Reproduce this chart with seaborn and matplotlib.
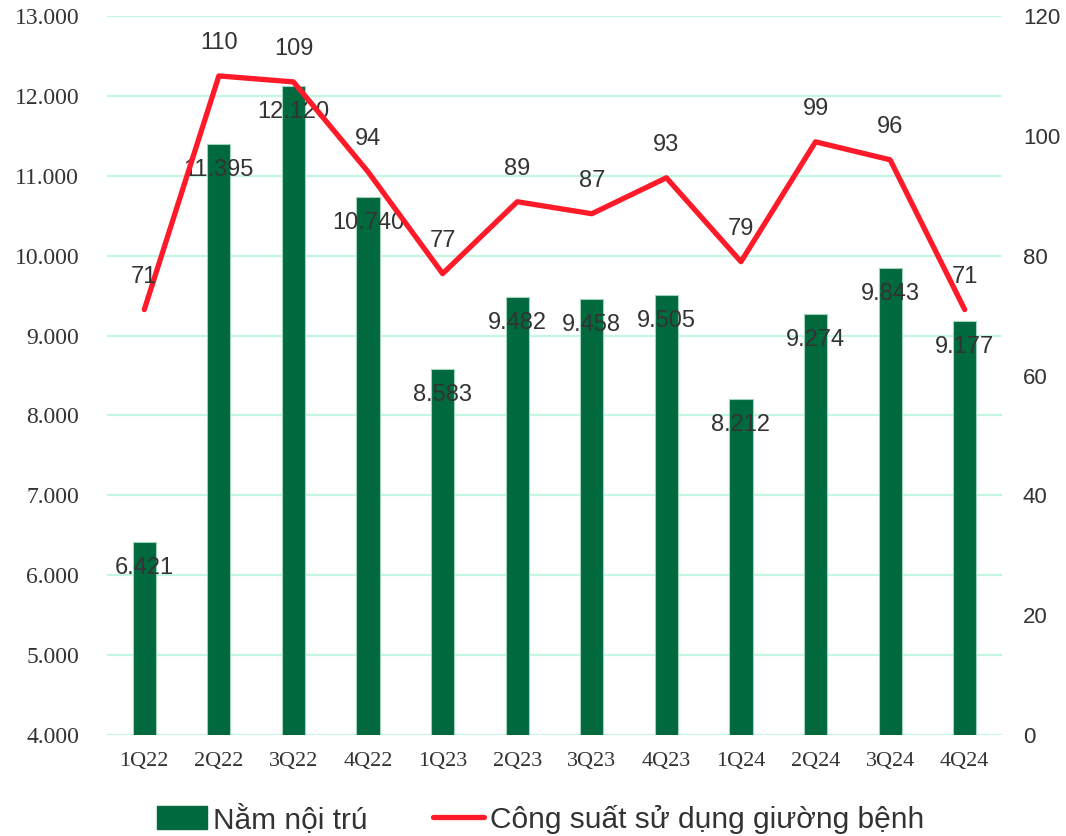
import numpy as np
import pandas as pd
import matplotlib
matplotlib.use("Agg")
import matplotlib.pyplot as plt
from matplotlib.patches import Patch
from matplotlib.lines import Line2D
import seaborn as sns

# data
QUARTERS = ["1Q22", "2Q22", "3Q22", "4Q22", "1Q23", "2Q23", "3Q23", "4Q23",
            "1Q24", "2Q24", "3Q24", "4Q24"]
INPATIENT = [6421, 11395, 12120, 10740, 8583, 9482, 9458, 9505, 8212, 9274, 9843, 9177]
BED_USE = [71, 110, 109, 94, 77, 89, 87, 93, 79, 99, 96, 71]

LEFT_TICKS = list(range(4000, 13001, 1000))
RIGHT_TICKS = list(range(0, 121, 20))

BAR_LABEL = "Nằm nội trú"
LINE_LABEL = "Công suất sử dụng giường bệnh"

GREEN = "#006A3E"
RED = "#FF1A2A"
GRID = "#C4F6E1"
TEXT = "#333333"

sns.set_theme(style="white")
plt.rcParams["font.family"] = ["Liberation Sans", "DejaVu Sans"]

df = pd.DataFrame({"quarter": QUARTERS, "inpatient": INPATIENT, "bed_use": BED_USE})
df["pos"] = np.arange(len(df))


def vn_thousands(v):
    return f"{v:,}".replace(",", ".")


fig = plt.figure(figsize=(10.66, 8.36), dpi=100)
ax = fig.add_axes([107 / 1066, 1 - 735 / 836, (1002 - 107) / 1066, (735 - 16) / 836])

sns.barplot(data=df, x="quarter", y="inpatient", color=GREEN, saturation=1,
            width=0.31, edgecolor="#9FD3BA", linewidth=0.8, ax=ax, zorder=2)
ax.set_ylim(4000, 13000)
ax.set_xlim(-0.5, len(QUARTERS) - 0.5)
ax.set_yticks(LEFT_TICKS)
ax.set_yticklabels([vn_thousands(t) for t in LEFT_TICKS],
                   family="Liberation Serif", fontsize=17, color=TEXT)
ax.set_xticks(df["pos"])
ax.set_xticklabels(QUARTERS, family="Liberation Serif", fontsize=16, color=TEXT)
ax.tick_params(axis="both", length=0)
ax.tick_params(axis="y", pad=20)
ax.tick_params(axis="x", pad=12)
ax.set_xlabel("")
ax.set_ylabel("")
ax.grid(axis="y", color=GRID, linewidth=1.6, zorder=0)
ax.set_axisbelow(True)
for s in ax.spines.values():
    s.set_visible(False)

for p, v in zip(df["pos"], df["inpatient"]):
    ax.annotate(vn_thousands(v), (p, v), xytext=(0, -26), textcoords="offset pixels",
                ha="center", va="center", fontsize=17, color=TEXT, zorder=5)

ax2 = ax.twinx()
sns.lineplot(data=df, x="pos", y="bed_use", color=RED, linewidth=3.8, ax=ax2, zorder=3)
ax2.set_ylim(0, 120)
ax2.set_yticks(RIGHT_TICKS)
ax2.set_yticklabels([str(t) for t in RIGHT_TICKS], fontsize=16, color=TEXT)
ax2.tick_params(axis="y", length=0, pad=15)
ax2.set_ylabel("")
ax2.set_xlabel("")
ax2.grid(False)
for s in ax2.spines.values():
    s.set_visible(False)

for p, v in zip(df["pos"], df["bed_use"]):
    ax2.annotate(str(v), (p, v), xytext=(0, 33), textcoords="offset pixels",
                 ha="center", va="center", fontsize=17, color=TEXT, zorder=5)

handles = [Patch(facecolor=GREEN, edgecolor=GREEN),
           Line2D([0], [0], color=RED, linewidth=3.8)]
fig.legend(handles, [BAR_LABEL, LINE_LABEL], loc="center", bbox_to_anchor=(0.507, 0.02),
           ncol=2, frameon=False, fontsize=21.5, handlelength=1.7, handleheight=0.8,
           handletextpad=0.2, columnspacing=2.2, labelcolor=TEXT)

fig.savefig("out.png", dpi=100)
